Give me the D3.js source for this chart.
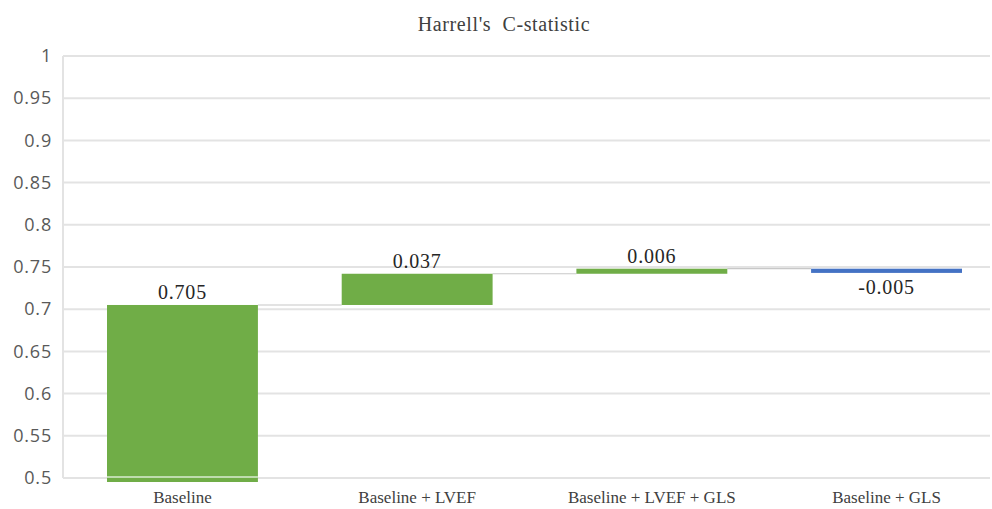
<!DOCTYPE html>
<html>
<head>
<meta charset="utf-8">
<script src="https://cdn.jsdelivr.net/npm/d3@7"></script>
<style>
  body { margin: 0; background: #fff; }
  svg { display: block; }
</style>
</head>
<body>
<svg id="chart" width="992" height="509"></svg>
<script>
var categories = ["Baseline", "Baseline + LVEF", "Baseline + LVEF + GLS", "Baseline + GLS"];
var deltas = [0.705, 0.037, 0.006, -0.005];
var labels = ["0.705", "0.037", "0.006", "-0.005"];
var yTicks = [0.5, 0.55, 0.6, 0.65, 0.7, 0.75, 0.8, 0.85, 0.9, 0.95, 1];
var baseValue = 0.5;

var svg = d3.select("#chart"),
    margin = {top: 56, right: 2, bottom: 31, left: 63},
    width = 992 - margin.left - margin.right,
    height = 509 - margin.top - margin.bottom,
    g = svg.append("g").attr("transform", "translate(" + margin.left + "," + margin.top + ")");

// waterfall steps: first bar starts at the axis floor
var steps = [], running = 0;
deltas.forEach(function(d, i) {
  var start = i === 0 ? baseValue : running;
  var end = i === 0 ? d : running + d;
  steps.push({cat: categories[i], start: start, end: end, delta: d, label: labels[i]});
  running = end;
});

// the category range runs a little past the cropped right edge of the plot
var x = d3.scaleBand().domain(categories).range([0, 943]).paddingInner(0.357).paddingOuter(0.1875);
var y = d3.scaleLinear().domain([0.5, 1]).range([height, 0]);

svg.append("text")
    .attr("x", 504).attr("y", 31)
    .attr("text-anchor", "middle")
    .style("font-family", "'Liberation Serif', serif")
    .style("font-size", "20px")
    .style("letter-spacing", "0.6px")
    .style("white-space", "pre")
    .attr("fill", "#404040")
    .text("Harrell's  C-statistic");

// grid
g.append("g").selectAll("line").data(yTicks).join("line")
    .attr("x1", 0).attr("x2", width)
    .attr("y1", function(d) { return y(d); }).attr("y2", function(d) { return y(d); })
    .attr("stroke", "#e3e3e3").attr("stroke-width", 2);

g.append("line")
    .attr("x1", 0).attr("x2", 0).attr("y1", y(1)).attr("y2", y(0.5))
    .attr("stroke", "#e3e3e3").attr("stroke-width", 2);

g.append("g")
    .call(d3.axisLeft(y).tickValues(yTicks).tickFormat(d3.format("~g")).tickSize(0).tickPadding(11))
    .call(function(a) { a.select(".domain").remove(); })
    .selectAll("text")
    .style("font-family", "'Open Sans', sans-serif")
    .style("font-size", "18px")
    .style("letter-spacing", "0.8px")
    .attr("fill", "#595959");

// connectors
g.append("g").selectAll("line").data(steps.slice(0, -1)).join("line")
    .attr("x1", function(d) { return x(d.cat) + x.bandwidth(); })
    .attr("x2", function(d, i) { return x(steps[i + 1].cat); })
    .attr("y1", function(d) { return y(d.end); })
    .attr("y2", function(d) { return y(d.end); })
    .attr("stroke", "#c8c8c8").attr("stroke-width", 1.2);

// bars
g.append("g").selectAll("rect").data(steps).join("rect")
    .attr("x", function(d) { return x(d.cat); })
    .attr("width", x.bandwidth())
    .attr("y", function(d) { return y(Math.max(d.start, d.end)); })
    .attr("height", function(d, i) {
      var h = Math.abs(y(d.start) - y(d.end));
      return i === 0 ? h + 4 : Math.max(h, 4);
    })
    .attr("fill", function(d) { return d.delta < 0 ? "#4472C4" : "#70AD47"; });

// light line where the floor crosses the first bar
g.append("line")
    .attr("x1", x(categories[0])).attr("x2", x(categories[0]) + x.bandwidth())
    .attr("y1", y(0.5) - 1).attr("y2", y(0.5) - 1)
    .attr("stroke", "#d9ecd0").attr("stroke-width", 1.5);

// value labels
g.append("g").selectAll("text").data(steps).join("text")
    .attr("x", function(d) { return x(d.cat) + x.bandwidth() / 2; })
    .attr("y", function(d) {
      return d.delta < 0 ? y(Math.min(d.start, d.end)) + 21 : y(Math.max(d.start, d.end)) - 6;
    })
    .attr("text-anchor", "middle")
    .style("font-family", "'Liberation Serif', serif")
    .style("font-size", "20px")
    .style("letter-spacing", "0.8px")
    .attr("fill", "#262626")
    .text(function(d) { return d.label; });

// category labels
g.append("g").selectAll("text").data(categories).join("text")
    .attr("x", function(d) { return x(d) + x.bandwidth() / 2; })
    .attr("y", height + 25)
    .attr("text-anchor", "middle")
    .style("font-family", "'Liberation Serif', serif")
    .style("font-size", "17px")
    .attr("fill", "#404040")
    .text(function(d) { return d; });
</script>
</body>
</html>
